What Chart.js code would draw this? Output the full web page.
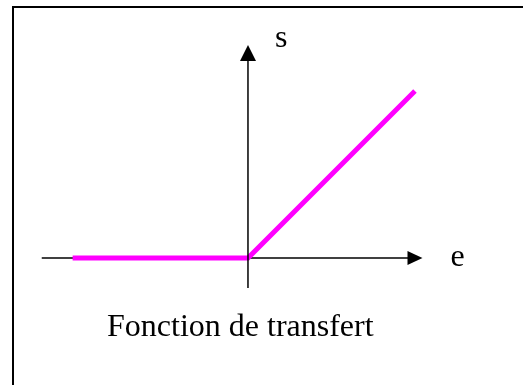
<!DOCTYPE html>
<html>
<head>
<meta charset="utf-8">
<script src="https://cdn.jsdelivr.net/npm/chart.js@4"></script>
<style>
  html, body { margin: 0; padding: 0; background: #fff; }
  #wrap { width: 523px; height: 385px; position: relative; }
</style>
</head>
<body>
<div id="wrap"><canvas id="transferChart"></canvas></div>
<script>
// transfer function s = f(e): zero for e < 0, linear for e > 0
const eValues = [-1.05, 0, 1];
const sValues = [0, 0, 1];

// axes extents (same units)
const eAxisRange = [-1.235, 1.045];
const sAxisRange = [-0.18, 1.275];

const xLabel = "e";
const yLabel = "s";
const caption = "Fonction de transfert";

const curve = eValues.map((e, i) => ({ x: e, y: sValues[i] }));

const frame = {
    id: "frame",
    beforeDatasetsDraw(chart) {
        const { ctx, scales } = chart;
        const x = scales.x, y = scales.y;
        ctx.save();
        // border (top and left)
        ctx.strokeStyle = "#000";
        ctx.lineWidth = 2;
        ctx.beginPath();
        ctx.moveTo(13, 385);
        ctx.lineTo(13, 7);
        ctx.lineTo(523, 7);
        ctx.stroke();

        // horizontal axis
        const y0 = y.getPixelForValue(0);
        const xa = x.getPixelForValue(eAxisRange[0]);
        const xb = x.getPixelForValue(eAxisRange[1]);
        ctx.lineWidth = 1.5;
        ctx.beginPath();
        ctx.moveTo(xa, y0);
        ctx.lineTo(xb - 10, y0);
        ctx.stroke();
        ctx.fillStyle = "#000";
        ctx.beginPath();
        ctx.moveTo(xb, y0);
        ctx.lineTo(xb - 15, y0 - 7);
        ctx.lineTo(xb - 15, y0 + 7);
        ctx.closePath();
        ctx.fill();

        ctx.font = "32px 'Liberation Serif', 'Times New Roman', serif";
        ctx.textBaseline = "alphabetic";
        ctx.fillText(xLabel, xb + 28, y0 + 8);
        ctx.fillText(caption, 107, 336);
        ctx.restore();
    },
    afterDatasetsDraw(chart) {
        const { ctx, scales } = chart;
        const x = scales.x, y = scales.y;
        const x0 = x.getPixelForValue(0);
        const ya = y.getPixelForValue(sAxisRange[0]);
        const yb = y.getPixelForValue(sAxisRange[1]);
        ctx.save();
        ctx.strokeStyle = "#000";
        ctx.fillStyle = "#000";
        ctx.lineWidth = 1.5;
        ctx.beginPath();
        ctx.moveTo(x0, ya);
        ctx.lineTo(x0, yb + 10);
        ctx.stroke();
        ctx.beginPath();
        ctx.moveTo(x0, yb);
        ctx.lineTo(x0 - 8, yb + 16);
        ctx.lineTo(x0 + 8, yb + 16);
        ctx.closePath();
        ctx.fill();

        ctx.font = "32px 'Liberation Serif', 'Times New Roman', serif";
        ctx.fillText(yLabel, x0 + 27, yb + 2);
        ctx.restore();
    }
};

new Chart(document.getElementById("transferChart"), {
    type: "scatter",
    data: {
        datasets: [
            {
                label: "s",
                data: curve,
                showLine: true,
                borderColor: "#FF00FF",
                borderWidth: 5,
                pointRadius: 0,
                fill: false,
                tension: 0
            }
        ]
    },
    options: {
        responsive: true,
        maintainAspectRatio: false,
        animation: false,
        layout: { padding: 0 },
        plugins: {
            legend: { display: false },
            tooltip: { enabled: false }
        },
        scales: {
            x: { type: "linear", display: false, min: -1.485, max: 1.647 },
            y: { type: "linear", display: false, min: -0.76, max: 1.545 }
        }
    },
    plugins: [frame]
});
</script>
</body>
</html>
